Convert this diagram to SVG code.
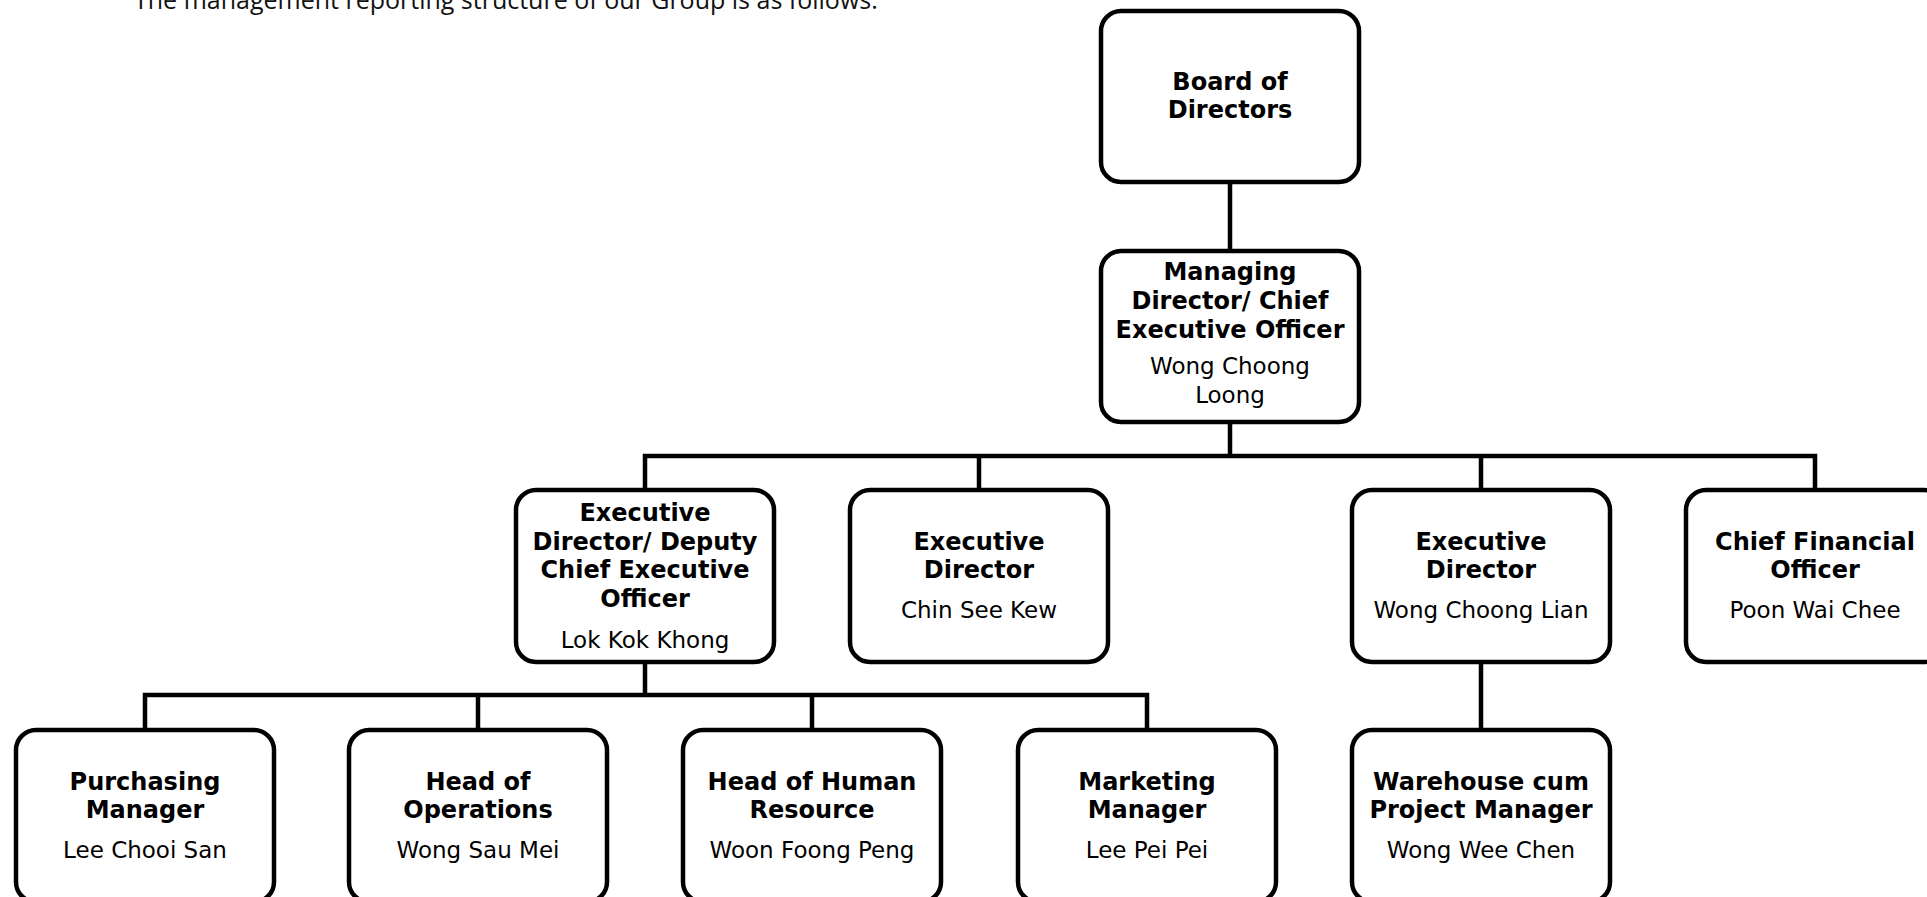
<svg xmlns="http://www.w3.org/2000/svg" width="1927" height="897" viewBox="0 0 1927 897">
<style>
.box{fill:#fff;stroke:#000;stroke-width:4.5}
.con{fill:none;stroke:#000;stroke-width:4.5;stroke-linejoin:miter;stroke-linecap:butt}
.t{font-family:"DejaVu Sans",Verdana,sans-serif;font-weight:bold;font-size:24px;fill:#000;text-anchor:middle}
.n{font-family:"DejaVu Sans",Verdana,sans-serif;font-size:23px;fill:#000;text-anchor:middle}
.h{font-family:"Open Sans","DejaVu Sans",sans-serif;font-size:25px;fill:#111}
</style>
<rect width="1927" height="897" fill="#fff"/>
<text class="h" x="134" y="9">The management reporting structure of our Group is as follows.</text>
<g id="connectors">
<path class="con" d="M1230 182V251"/>
<path class="con" d="M1230 422V456"/>
<path class="con" d="M645 490V456H1815V490"/>
<path class="con" d="M979 456V490"/>
<path class="con" d="M1481 456V490"/>
<path class="con" d="M645 662V695"/>
<path class="con" d="M145 730V695H1147V730"/>
<path class="con" d="M478 695V730"/>
<path class="con" d="M812 695V730"/>
<path class="con" d="M1481 662V730"/>
</g>
<g id="board">
<rect class="box" x="1101" y="11" width="258" height="171" rx="20"/>
<text class="t" x="1230" y="90">Board of</text>
<text class="t" x="1230" y="118">Directors</text>
</g>
<g id="md">
<rect class="box" x="1101" y="251" width="258" height="171" rx="20"/>
<text class="t" x="1230" y="280">Managing</text>
<text class="t" x="1230" y="309">Director/ Chief</text>
<text class="t" x="1230" y="338">Executive Officer</text>
<text class="n" x="1230" y="374">Wong Choong</text>
<text class="n" x="1230" y="403">Loong</text>
</g>
<g id="ed-deputy">
<rect class="box" x="516" y="490" width="258" height="172" rx="20"/>
<text class="t" x="645" y="521">Executive</text>
<text class="t" x="645" y="550">Director/ Deputy</text>
<text class="t" x="645" y="578">Chief Executive</text>
<text class="t" x="645" y="607">Officer</text>
<text class="n" x="645" y="648">Lok Kok Khong</text>
</g>
<g id="ed-chin">
<rect class="box" x="850" y="490" width="258" height="172" rx="20"/>
<text class="t" x="979" y="550">Executive</text>
<text class="t" x="979" y="578">Director</text>
<text class="n" x="979" y="618">Chin See Kew</text>
</g>
<g id="ed-wong">
<rect class="box" x="1352" y="490" width="258" height="172" rx="20"/>
<text class="t" x="1481" y="550">Executive</text>
<text class="t" x="1481" y="578">Director</text>
<text class="n" x="1481" y="618">Wong Choong Lian</text>
</g>
<g id="cfo">
<rect class="box" x="1686" y="490" width="258" height="172" rx="20"/>
<text class="t" x="1815" y="550">Chief Financial</text>
<text class="t" x="1815" y="578">Officer</text>
<text class="n" x="1815" y="618">Poon Wai Chee</text>
</g>
<g id="purchasing">
<rect class="box" x="16" y="730" width="258" height="172" rx="20"/>
<text class="t" x="145" y="790">Purchasing</text>
<text class="t" x="145" y="818">Manager</text>
<text class="n" x="145" y="858">Lee Chooi San</text>
</g>
<g id="operations">
<rect class="box" x="349" y="730" width="258" height="172" rx="20"/>
<text class="t" x="478" y="790">Head of</text>
<text class="t" x="478" y="818">Operations</text>
<text class="n" x="478" y="858">Wong Sau Mei</text>
</g>
<g id="hr">
<rect class="box" x="683" y="730" width="258" height="172" rx="20"/>
<text class="t" x="812" y="790">Head of Human</text>
<text class="t" x="812" y="818">Resource</text>
<text class="n" x="812" y="858">Woon Foong Peng</text>
</g>
<g id="marketing">
<rect class="box" x="1018" y="730" width="258" height="172" rx="20"/>
<text class="t" x="1147" y="790">Marketing</text>
<text class="t" x="1147" y="818">Manager</text>
<text class="n" x="1147" y="858">Lee Pei Pei</text>
</g>
<g id="warehouse">
<rect class="box" x="1352" y="730" width="258" height="172" rx="20"/>
<text class="t" x="1481" y="790">Warehouse cum</text>
<text class="t" x="1481" y="818">Project Manager</text>
<text class="n" x="1481" y="858">Wong Wee Chen</text>
</g>
</svg>
